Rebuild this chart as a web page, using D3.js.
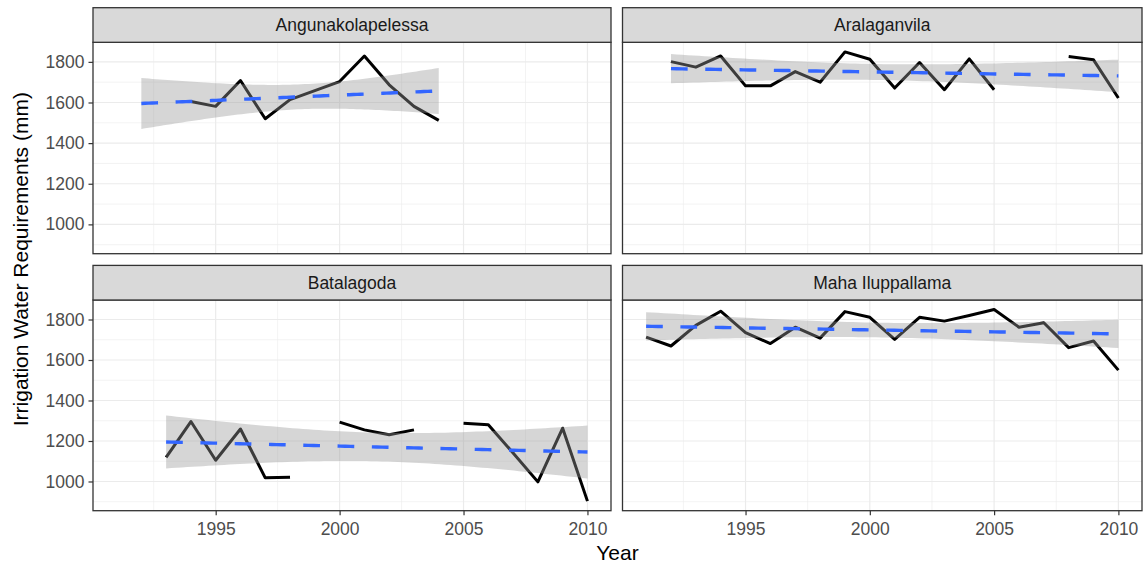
<!DOCTYPE html>
<html>
<head>
<meta charset="utf-8">
<script src="https://cdn.jsdelivr.net/npm/d3@7"></script>
<style>
  body { margin: 0; background: #fff; }
  svg text { font-family: "Liberation Sans", Arial, sans-serif; }
</style>
</head>
<body>
<div id="chart"></div>
<script>
// facet names, in panel order
var sites = ["Angunakolapelessa", "Aralaganvila", "Batalagoda", "Maha Iluppallama"];

// yearly values per site (null = missing year)
var years = d3.range(1991, 2011);
var angunakolapelessa = [null, 1540, null, 1605, 1581, 1708, 1520, 1614, 1658, 1703, 1829, 1687, 1581, 1512, null, null, null, null, null, null];
var aralaganvila      = [null, 1801, 1774, 1829, 1682, 1682, 1752, 1700, 1849, 1813, 1671, 1797, 1663, 1815, 1663, null, null, 1826, 1810, 1622];
var batalagoda        = [null, null, 1119, 1296, 1105, 1259, 1018, 1021, null, 1293, 1255, 1231, 1255, null, 1288, 1280, 1141, 998, 1263, 903];
var mahaIluppallama   = [1713, 1669, 1771, 1841, 1735, 1681, 1762, 1708, 1839, 1811, 1702, 1811, 1792, 1820, 1849, 1762, 1784, 1661, 1694, 1550];

var seriesBySite = [angunakolapelessa, aralaganvila, batalagoda, mahaIluppallama];

var xTicks = [1995, 2000, 2005, 2010];
var yTicks = [1000, 1200, 1400, 1600, 1800];

// layout
const W = 1147, H = 566;
const cols = [[93, 611], [622.5, 1142]];
const rows = [[42.3, 253.7], [300, 510.7]];
const stripH = 34.6;

const svg = d3.select("#chart").append("svg")
    .attr("width", W).attr("height", H);

// shared scales, ggplot style 5% expansion
var allVals = [].concat.apply([], seriesBySite).filter(v => v != null);
var yMin = d3.min(allVals), yMax = d3.max(allVals);
var yPad = (yMax - yMin) * 0.05;
var xPad = (2010 - 1991) * 0.05;

// t critical value (Cornish-Fisher approx) for the 95% band
function tCrit(df) {
    var z = 1.959964;
    return z + (Math.pow(z, 3) + z) / (4 * df)
        + (5 * Math.pow(z, 5) + 16 * Math.pow(z, 3) + 3 * z) / (96 * df * df)
        + (3 * Math.pow(z, 7) + 19 * Math.pow(z, 5) + 17 * Math.pow(z, 3) - 15 * z) / (384 * Math.pow(df, 3));
}

// linear fit + confidence band, like geom_smooth(method = "lm")
function lmFit(pts) {
    var n = pts.length;
    var mx = d3.mean(pts, d => d.year), my = d3.mean(pts, d => d.value);
    var sxx = d3.sum(pts, d => (d.year - mx) * (d.year - mx));
    var sxy = d3.sum(pts, d => (d.year - mx) * (d.value - my));
    var b = sxy / sxx, a = my - b * mx;
    var rss = d3.sum(pts, d => Math.pow(d.value - (a + b * d.year), 2));
    var s = Math.sqrt(rss / (n - 2));
    var t = tCrit(n - 2);
    var x0 = d3.min(pts, d => d.year), x1 = d3.max(pts, d => d.year);
    var out = [];
    for (var i = 0; i <= 80; i++) {
        var x = x0 + (x1 - x0) * i / 80;
        var fit = a + b * x;
        var se = s * Math.sqrt(1 / n + (x - mx) * (x - mx) / sxx);
        out.push({year: x, fit: fit, lo: fit - t * se, hi: fit + t * se});
    }
    return out;
}

sites.forEach(function(site, i) {
    var c = i % 2, r = Math.floor(i / 2);
    var xr = cols[c], yr = rows[r];

    var x = d3.scaleLinear().domain([1991 - xPad, 2010 + xPad]).range(xr);
    var y = d3.scaleLinear().domain([yMin - yPad, yMax + yPad]).range([yr[1], yr[0]]);

    var g = svg.append("g");

    // panel background + grid
    g.append("rect")
        .attr("x", xr[0]).attr("y", yr[0])
        .attr("width", xr[1] - xr[0]).attr("height", yr[1] - yr[0])
        .attr("fill", "#fff");

    var yMinor = [900, 1100, 1300, 1500, 1700];
    var xMinor = [1992.5, 1997.5, 2002.5, 2007.5];
    g.selectAll(".ymin").data(yMinor).enter().append("line")
        .attr("x1", xr[0]).attr("x2", xr[1])
        .attr("y1", d => y(d)).attr("y2", d => y(d))
        .attr("stroke", "#ebebeb").attr("stroke-width", 0.6);
    g.selectAll(".xmin").data(xMinor).enter().append("line")
        .attr("y1", yr[0]).attr("y2", yr[1])
        .attr("x1", d => x(d)).attr("x2", d => x(d))
        .attr("stroke", "#ebebeb").attr("stroke-width", 0.6);
    g.selectAll(".ymaj").data(yTicks).enter().append("line")
        .attr("x1", xr[0]).attr("x2", xr[1])
        .attr("y1", d => y(d)).attr("y2", d => y(d))
        .attr("stroke", "#ebebeb").attr("stroke-width", 1.2);
    g.selectAll(".xmaj").data(xTicks).enter().append("line")
        .attr("y1", yr[0]).attr("y2", yr[1])
        .attr("x1", d => x(d)).attr("x2", d => x(d))
        .attr("stroke", "#ebebeb").attr("stroke-width", 1.2);

    // data
    var vals = seriesBySite[i];
    var pts = years.map((yy, k) => ({year: yy, value: vals[k]}));
    var present = pts.filter(d => d.value != null);

    var line = d3.line()
        .defined(d => d.value != null)
        .x(d => x(d.year)).y(d => y(d.value));

    g.append("path")
        .datum(pts)
        .attr("d", line)
        .attr("fill", "none")
        .attr("stroke", "#000")
        .attr("stroke-width", 3)
        .attr("stroke-linejoin", "round");

    // smooth
    var fit = lmFit(present);
    g.append("path")
        .datum(fit)
        .attr("d", d3.area().x(d => x(d.year)).y0(d => y(d.lo)).y1(d => y(d.hi)))
        .attr("fill", "#999999")
        .attr("fill-opacity", 0.4);

    g.append("path")
        .datum(fit)
        .attr("d", d3.line().x(d => x(d.year)).y(d => y(d.fit)))
        .attr("fill", "none")
        .attr("stroke", "#3366FF")
        .attr("stroke-width", 3.4)
        .attr("stroke-dasharray", "16.7,17.6");

    // border
    g.append("rect")
        .attr("x", xr[0]).attr("y", yr[0])
        .attr("width", xr[1] - xr[0]).attr("height", yr[1] - yr[0])
        .attr("fill", "none").attr("stroke", "#333333").attr("stroke-width", 1.3);

    // strip
    g.append("rect")
        .attr("x", xr[0]).attr("y", yr[0] - stripH)
        .attr("width", xr[1] - xr[0]).attr("height", stripH)
        .attr("fill", "#d9d9d9").attr("stroke", "#333333").attr("stroke-width", 1.3);
    g.append("text")
        .attr("x", (xr[0] + xr[1]) / 2)
        .attr("y", yr[0] - stripH / 2)
        .attr("dy", "0.36em")
        .attr("text-anchor", "middle")
        .attr("font-size", "17.5px")
        .attr("fill", "#1a1a1a")
        .text(site);

    // axes
    if (r === 1) {
        var ax = g.append("g")
            .attr("transform", "translate(0," + yr[1] + ")")
            .call(d3.axisBottom(x).tickValues(xTicks).tickFormat(d3.format("d")).tickSize(4.5).tickPadding(7.5));
        ax.select(".domain").remove();
        ax.selectAll("line").attr("stroke", "#333333").attr("stroke-width", 1.2);
        ax.selectAll("text").attr("font-size", "17.5px").attr("fill", "#4d4d4d")
            .attr("font-family", "'Liberation Sans', Arial, sans-serif");
    }
    if (c === 0) {
        var ay = g.append("g")
            .attr("transform", "translate(" + xr[0] + ",0)")
            .call(d3.axisLeft(y).tickValues(yTicks).tickFormat(d3.format("d")).tickSize(4.5).tickPadding(4));
        ay.select(".domain").remove();
        ay.selectAll("line").attr("stroke", "#333333").attr("stroke-width", 1.2);
        ay.selectAll("text").attr("font-size", "17.5px").attr("fill", "#4d4d4d")
            .attr("font-family", "'Liberation Sans', Arial, sans-serif");
    }
});

// axis titles
svg.append("text")
    .attr("x", (cols[0][0] + cols[1][1]) / 2)
    .attr("y", 560)
    .attr("text-anchor", "middle")
    .attr("font-size", "21px")
    .attr("fill", "#000")
    .text("Year");

svg.append("text")
    .attr("transform", "translate(28," + ((rows[0][0] - stripH + rows[1][1]) / 2) + ") rotate(-90)")
    .attr("text-anchor", "middle")
    .attr("font-size", "21px")
    .attr("fill", "#000")
    .text("Irrigation Water Requirements (mm)");
</script>
</body>
</html>
